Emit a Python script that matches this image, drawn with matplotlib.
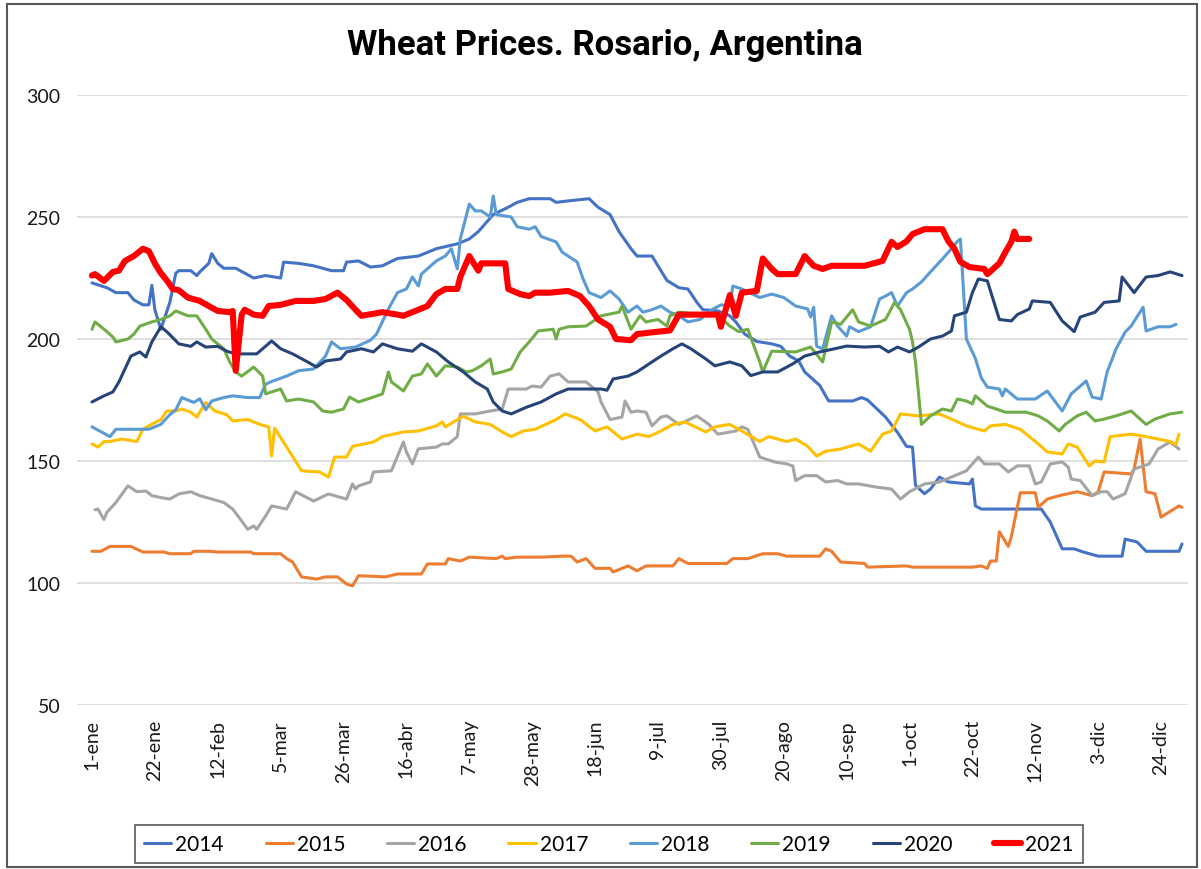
import matplotlib
matplotlib.use('Agg')
import matplotlib.pyplot as plt
from matplotlib.patches import Rectangle

# x axis: day of year (0 = 1-ene)
tick_days = [0, 21, 42, 63, 84, 105, 126, 147, 168, 189, 210, 231, 252, 273, 294, 315, 336, 357]
tick_labels = ['1-ene', '22-ene', '12-feb', '5-mar', '26-mar', '16-abr', '7-may', '28-may', '18-jun',
               '9-jul', '30-jul', '20-ago', '10-sep', '1-oct', '22-oct', '12-nov', '3-dic', '24-dic']

# values
d2014 = [0, 5, 8, 12, 14, 17, 19, 20, 21, 23, 26, 28, 29, 33, 35, 36, 39, 40, 42, 44, 48, 54, 58, 63, 64, 69, 74,
         80, 84, 85, 89, 93, 97, 102, 109, 115, 122, 126, 129, 134, 139, 142, 146, 153, 155, 159, 166, 169, 173,
         176, 180, 182, 187, 192, 196, 199, 202, 204, 209, 213, 215, 218, 222, 227, 230, 233, 236, 238, 243, 246,
         254, 257, 259, 265, 269, 272, 274, 275, 278, 280, 283, 286, 293, 294, 295, 297, 317, 320, 324, 328, 331,
         336, 344, 345, 349, 352, 363, 364]
v2014 = [223, 221, 219, 219, 216, 214, 214, 222, 212, 204, 215, 227, 228, 228, 226, 227.5, 231, 235, 231, 229, 229,
         225, 226, 225, 231.5, 231, 230, 228, 228, 231.5, 232, 229.5, 230, 233, 234, 237, 239, 241, 244, 251, 254,
         256, 257.5, 257.5, 256, 256.6, 257.5, 254, 251, 244, 237, 234, 234, 224, 221, 220.5, 215, 212, 211.5,
         209.5, 207, 202, 199, 198, 197, 193, 191, 186.5, 181, 174.6, 174.6, 176, 175, 168, 161.7, 156, 155.7,
         140, 136.6, 138.5, 143.4, 141.4, 140.6, 142.6, 131.6, 130.3, 130.3, 125, 114, 114, 112.7, 111, 111, 118,
         116.8, 113, 113, 116]

d2015 = [0, 3, 6, 13, 17, 24, 26, 33, 34, 39, 42, 53, 54, 63, 65, 67, 70, 75, 78, 82, 85, 87, 89, 98, 102, 110,
         112, 118, 119, 123, 126, 135, 137, 138, 142, 150, 157, 160, 162, 165, 168, 173, 174, 179, 182, 185, 194,
         196, 199, 212, 214, 219, 224, 229, 232, 243, 245, 247, 250, 258, 259, 272, 274, 285, 294, 297, 299, 300,
         302, 303, 306, 307, 310, 315, 316, 319, 323, 329, 334, 336, 338, 347, 348, 350, 352, 355, 357, 363, 364]
v2015 = [113, 113, 115, 115, 112.7, 112.7, 112, 112, 113, 113, 112.7, 112.7, 112, 112, 110, 108.6, 102.5, 101.6,
         102.5, 102.5, 99.6, 98.8, 103, 102.5, 103.7, 103.7, 107.8, 107.8, 110, 109, 110.6, 110, 111, 110, 110.6,
         110.6, 111, 111, 108.6, 110, 106, 106, 104.5, 107, 105, 107, 107, 110, 108, 108, 110, 110, 112, 112, 111,
         111, 114, 113, 108.6, 108, 106.5, 107, 106.5, 106.5, 106.5, 107, 106, 109, 109, 121, 115, 119, 137, 137,
         131, 134.4, 135.8, 137.4, 135.8, 137.4, 145.5, 144.7, 146.7, 159, 137.4, 136.6, 127, 131.6, 131]

d2016 = [1, 2, 4, 5, 8, 12, 15, 18, 20, 23, 26, 29, 33, 36, 40, 44, 47, 50, 52, 54, 55, 58, 60, 65, 68, 74, 79,
         85, 87, 88, 89, 93, 94, 100, 104, 105, 107, 109, 115, 117, 119, 122, 123, 128, 133, 137, 139, 145, 147,
         150, 153, 156, 159, 165, 169, 170, 173, 177, 178, 180, 182, 185, 187, 190, 192, 196, 202, 206, 209, 215,
         217, 219, 223, 228, 232, 234, 235, 238, 242, 245, 249, 252, 256, 262, 267, 270, 273, 278, 283, 287, 292,
         296, 298, 303, 306, 309, 313, 315, 317, 320, 324, 326, 327, 330, 334, 337, 339, 341, 345, 348, 353, 356,
         360, 363]
v2016 = [130, 130.3, 126, 129, 133, 139.8, 137.4, 137.7, 135.8, 135, 134.4, 136.5, 137.4, 135.8, 134.4, 133,
         130.3, 125.4, 122, 123.4, 122, 127.5, 131.6, 130.3, 137.4, 133.6, 136.5, 134.4, 140.6, 138.5, 139.8, 141.4,
         145.5, 146, 157.8, 153.7, 148.8, 155, 155.7, 157, 157, 160, 169.3, 169.3, 170.5, 171.3, 179.5, 179.5,
         180.7, 180.3, 184.8, 185.7, 182.4, 182.4, 178.3, 174.2, 167, 168, 174.6, 170, 170.5, 170, 164.4, 168,
         168.5, 165, 168.5, 165, 161, 162.3, 164, 163, 151.6, 149.6, 148.8, 148, 142, 144, 144, 141.4, 142, 140.6,
         140.6, 139.3, 138.5, 134.4, 137.4, 140.6, 141.4, 143.4, 146, 151.6, 148.8, 148.8, 145.5, 148, 148, 140.6,
         141.4, 148.8, 149.6, 147.5, 142.6, 142, 135.8, 137.4, 137.4, 134.4, 136.6, 146.7, 148.8, 154.9, 157.8,
         154.9]

d2017 = [0, 2, 4, 6, 10, 15, 17, 19, 23, 25, 28, 30, 33, 35, 38, 41, 45, 47, 52, 56, 59, 60, 61, 65, 70, 76, 79,
         81, 85, 87, 94, 97, 104, 109, 115, 117, 118, 124, 128, 133, 137, 140, 144, 148, 155, 158, 163, 168, 172,
         177, 182, 186, 190, 194, 198, 205, 208, 213, 217, 223, 226, 232, 235, 239, 242, 245, 250, 256, 260, 264,
         267, 270, 276, 283, 287, 292, 298, 300, 305, 310, 316, 319, 324, 326, 329, 333, 335, 338, 340, 347, 352,
         360, 362, 363]
v2017 = [157, 155.7, 158, 158, 159, 158, 163, 164.4, 167, 170.5, 170.5, 171.3, 170, 168, 174, 170.5, 169, 166.4,
         167, 165, 164, 152, 163.5, 155.7, 146, 145.5, 143.4, 151.6, 151.6, 156, 157.8, 160, 161.9, 162.3, 164.4,
         166, 164, 168.4, 166, 165, 161.9, 160, 162.3, 163, 167, 169.3, 167, 162.3, 164, 159, 161, 160, 162.3, 165,
         166, 161.9, 164, 165, 162.3, 158, 160, 158, 159, 156, 152, 154, 154.9, 157, 154, 161, 162.3, 169.3, 168.5,
         169.3, 167.2, 164.4, 162.3, 164.4, 165, 163, 157, 153.7, 152.9, 157, 155.7, 148, 150, 149.6, 160, 161,
         160, 158, 156.8, 161]

d2018 = [0, 3, 6, 8, 12, 15, 19, 23, 26, 28, 30, 34, 36, 38, 40, 44, 47, 52, 56, 58, 60, 65, 69, 74, 78, 80, 83,
         88, 93, 95, 99, 102, 105, 107, 109, 110, 115, 118, 120, 122, 123, 126, 128, 130, 133, 134, 135, 138, 140,
         142, 146, 148, 150, 155, 157, 162, 164, 166, 170, 173, 176, 179, 182, 184, 187, 190, 193, 196, 199, 203,
         207, 210, 213, 214, 217, 223, 227, 231, 235, 239, 240, 241, 242, 244, 247, 249, 252, 253, 256, 260, 263,
         265, 267, 269, 272, 274, 277, 280, 284, 287, 289, 290, 292, 295, 297, 299, 303, 304, 305, 309, 315, 319,
         324, 327, 332, 334, 337, 339, 342, 345, 347, 351, 352, 356, 360, 362]
v2018 = [164, 162, 160, 163, 163, 163, 163, 165, 169, 171, 176, 174, 175.5, 171, 174.6, 176, 176.7, 176, 176,
         181.5, 182.6, 184.8, 187, 187.7, 193, 198.8, 196, 196.7, 199.5, 202, 212.3, 219, 220.5, 225.4, 221.7,
         226.6, 232, 234, 237, 228.7, 241, 255.3, 252.5, 252.5, 250, 258.6, 251, 250.4, 250, 246, 245, 246, 242,
         239.8, 235.6, 231.6, 224.6, 219, 217, 219.7, 216.4, 211, 213.5, 211, 212, 213.5, 211, 209.5, 207, 208,
         212, 214, 213.5, 221.7, 220.5, 217, 218.4, 217, 213.5, 212.3, 209, 213, 197, 196, 209.5, 205.3, 201.2,
         205, 203, 205, 216.4, 217.6, 219, 213.5, 219, 220.5, 223.4, 227.5, 232.8, 237, 240, 241, 200, 192, 184,
         180.3, 179.5, 176.7, 179.5, 175.4, 175.4, 178.7, 170.5, 177.5, 182.8, 176.2, 175.4, 186.5, 196, 202.8,
         205.3, 213, 203.3, 205, 205, 206]

d2019 = [0, 1, 5, 7, 8, 12, 14, 16, 20, 23, 26, 28, 32, 35, 38, 40, 44, 46, 48, 50, 54, 57, 58, 63, 65, 69, 74,
         77, 80, 84, 86, 89, 94, 97, 99, 100, 104, 107, 110, 112, 115, 118, 122, 125, 127, 130, 133, 134, 137, 140,
         143, 146, 149, 154, 155, 156, 159, 165, 170, 176, 177, 180, 183, 185, 189, 192, 193, 196, 203, 209, 213,
         216, 219, 223, 224, 227, 235, 240, 244, 247, 250, 254, 256, 260, 265, 268, 270, 273, 274, 275, 277, 280,
         284, 287, 289, 292, 294, 295, 299, 302, 305, 312, 316, 319, 323, 325, 329, 332, 335, 338, 342, 347, 352,
         355, 360, 364]
v2019 = [204, 207, 203, 200.8, 198.8, 200, 202, 205.3, 207, 208, 209.5, 211.5, 209.5, 209.5, 204, 200, 196,
         190.6, 186.5, 184.8, 188.5, 184.8, 177.5, 179.5, 174.6, 175.4, 174.2, 170.5, 170, 171.3, 176.2, 174.2,
         176.2, 177.5, 186.5, 182.4, 178.7, 184.8, 185.7, 189.8, 184.8, 189, 188.5, 186.5, 187, 189, 191.8, 185.7,
         186.5, 187.7, 194.7, 198.8, 203.3, 204, 200, 204, 205, 205.3, 209.5, 211, 213.5, 204, 209.5, 207, 208,
         205.3, 209.5, 211, 210, 210, 205.3, 203, 204, 190.6, 186.5, 195, 194.7, 196.7, 190.6, 207, 206, 212, 207,
         205.3, 208, 215, 212, 204, 198.8, 190.6, 165, 168.5, 171.3, 170.5, 175.4, 174.6, 173.4, 176.7, 172.5,
         171.3, 170, 170, 168.5, 166.4, 162.3, 165, 168.5, 170, 166.4, 167.2, 168.5, 170.5, 165, 167.2, 169.3, 170]

d2020 = [0, 4, 7, 9, 13, 16, 18, 20, 23, 25, 29, 33, 35, 38, 42, 45, 48, 55, 57, 60, 63, 67, 72, 75, 78, 83, 85,
         90, 94, 97, 102, 107, 110, 115, 119, 124, 128, 132, 134, 137, 140, 145, 150, 155, 159, 164, 170, 172,
         174, 179, 182, 187, 190, 194, 197, 200, 205, 208, 213, 217, 220, 224, 229, 234, 238, 243, 248, 252, 258,
         263, 266, 269, 273, 276, 280, 284, 287, 288, 292, 294, 296, 299, 303, 307, 309, 313, 314, 320, 324, 328,
         330, 335, 338, 343, 344, 348, 352, 356, 360, 364]
v2020 = [174.2, 176.7, 178.3, 182.4, 193, 194.7, 192.6, 198.8, 205, 203, 198, 197, 198.8, 196.7, 197, 195, 193.9,
         193.9, 196, 199.2, 196, 193.9, 190.6, 188.5, 191, 191.8, 194.7, 196, 194.7, 198, 196, 195, 198, 194.7,
         190.6, 186.5, 182.4, 179.5, 174.2, 170.5, 169.3, 172, 174.2, 177.5, 179.5, 179.5, 179.5, 179, 183.6,
         184.8, 186.5, 190.6, 193, 196, 198, 196, 191.8, 189, 190.6, 189, 185, 186.5, 186.5, 189.8, 193, 194.7,
         196, 197.1, 196.7, 197, 194.7, 196.7, 194.7, 196.7, 200, 201.2, 203.3, 209.5, 211, 219, 224.6, 223.8,
         208, 207.4, 210, 212.3, 215.6, 215, 207.4, 203, 209, 211, 215, 215.6, 225.4, 219, 225.4, 226, 227.5, 226]

d2021 = [0, 1, 4, 7, 9, 11, 14, 17, 19, 21, 23, 25, 27, 29, 32, 36, 39, 42, 46, 47, 48, 50, 51, 54, 57, 59, 63,
         68, 74, 78, 82, 85, 88, 90, 97, 102, 104, 108, 112, 115, 118, 122, 123, 126, 129, 130, 138, 139, 143,
         146, 148, 153, 159, 163, 166, 169, 173, 175, 180, 182, 189, 193, 196, 209, 210, 213, 215, 217, 222, 224,
         227, 229, 235, 238, 241, 244, 247, 258, 264, 267, 269, 272, 274, 278, 284, 286, 288, 290, 293, 298, 299,
         303, 305, 307, 308, 309, 313]
v2021 = [226, 226.6, 223.8, 227.5, 228, 232, 234, 237, 236, 231, 227, 224, 220.5, 220, 217, 215.6, 213.5, 211.5,
         211, 211.5, 187, 210, 212, 210, 209.5, 213.5, 214, 215.6, 215.6, 216.4, 219, 216, 212, 209.5, 211, 210,
         209.5, 211.5, 213.5, 218.4, 220.5, 220.5, 225.4, 234, 228, 231, 231, 220.5, 218.4, 217.6, 219, 219,
         219.7, 217.6, 213.5, 208, 205, 200, 199.5, 202, 203, 203.5, 210, 210, 205, 218, 209.5, 219, 219.7, 233,
         228.7, 226.6, 226.6, 234, 230, 228.7, 230, 230, 232, 239.8, 237.7, 240, 243, 245, 245, 240, 237, 231.6,
         229.5, 228.7, 226.6, 231, 235.6, 239.8, 244, 241, 241]

years = ['2014', '2015', '2016', '2017', '2018', '2019', '2020', '2021']
colors = ['#4472C4', '#ED7D31', '#A5A5A5', '#FFC000', '#5B9BD5', '#70AD47', '#264478', '#FF0000']
widths = [2.2, 2.2, 2.2, 2.2, 2.2, 2.2, 2.2, 4.4]
series = [(d2014, v2014), (d2015, v2015), (d2016, v2016), (d2017, v2017),
          (d2018, v2018), (d2019, v2019), (d2020, v2020), (d2021, v2021)]

W, H = 1201, 870
fig = plt.figure(figsize=(W / 100, H / 100), dpi=100)
ax = fig.add_axes([77 / W, 1 - 706 / H, (1188 - 77) / W, (706 - 96) / H])

for (d, v), name, c, lw in zip(series, years, colors, widths):
    ax.plot(d, v, color=c, lw=lw, label=name, solid_joinstyle='round', solid_capstyle='round')

ax.set_xlim(-5, 366)
ax.set_ylim(50, 300)
ax.set_yticks([50, 100, 150, 200, 250, 300])
ax.set_xticks(tick_days)
ax.set_xticklabels(tick_labels, rotation=90, fontsize=14, family='Lato', color='#1a1a1a')
ax.tick_params(axis='y', labelsize=14, length=0, pad=12, labelcolor='#1a1a1a')
ax.tick_params(axis='x', length=0, pad=10)
for t in ax.get_yticklabels():
    t.set_family('Lato')
ax.grid(axis='y', color='#D9D9D9', lw=1.2)
ax.set_axisbelow(True)
for s in ax.spines.values():
    s.set_visible(False)

fig.text(0.504, 0.948, 'Wheat Prices. Rosario, Argentina', ha='center', va='center',
         fontsize=25, fontweight='bold', family=['Roboto', 'DejaVu Sans'])

leg = fig.legend(loc='center', bbox_to_anchor=(609 / W, 1 - 845 / H), ncol=8, frameon=True,
                 fancybox=False, edgecolor='#404040', handlelength=1.3, handletextpad=0.2,
                 columnspacing=2.0, borderpad=0.45,
                 prop={'family': 'Lato', 'size': 15})
leg.get_frame().set_linewidth(1.3)

fig.patches.append(Rectangle((7 / W, 2 / H), 1190 / W, 863 / H, transform=fig.transFigure,
                             fill=False, edgecolor='#595959', lw=1.5))

fig.savefig('out.png', dpi=100)
